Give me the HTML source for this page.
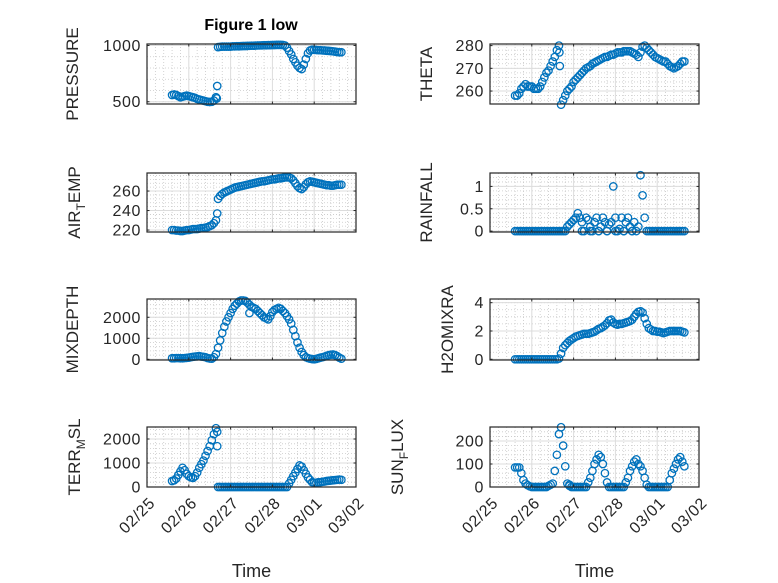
<!DOCTYPE html>
<html><head><meta charset="utf-8"><style>
html,body{margin:0;padding:0;background:#fff;}
svg{display:block;font-family:"Liberation Sans","DejaVu Sans",sans-serif;}
</style></head><body>
<svg id="fig" width="778" height="583" viewBox="0 0 778 583">
<rect width="778" height="583" fill="#fff"/>
<text x="251" y="30" text-anchor="middle" font-size="16" font-weight="bold" fill="#000">Figure 1 low</text>
</svg>
<script>
// shared time axis: days after 02/25 00:00
const t0 = 0.6, dt = 0.05;
const xTickLabels = ["02/25","02/26","02/27","02/28","03/01","03/02"];
const pressure = [560,565,560,550,540,545,550,555,550,545,540,535,525,520,515,510,505,500,498,500,510,540,
985,988,990,990,990,990,990,992,992,993,993,994,995,995,996,997,998,998,999,1000,1000,1001,1002,1002,1003,1003,1004,1004,1005,1005,1005,1004,1000,
980,950,920,880,850,820,800,790,830,880,930,955,962,962,960,958,958,956,955,953,952,950,948,945,942,940,940];
const theta = [258,258,259,261,262,263,262,262,262,261,261,261,262,264,266,268,269,271,273,275,278,280,
254,256,258,260,261,262,264,265,266,267,268,269,270,270.5,271,272,272.5,273,273.5,274,274.5,275,275,275.5,276,276,276.5,277,277,277,277.5,277.5,277.5,
277.5,277,276.5,276,275,277,279.5,280,279,278,277,276,275,274.5,274,273.5,273,273,272,271,270.5,270,270.5,271,272,273,273];
const airTemp = [220,220,219.5,219.5,219,219,219.5,220,220,220.5,221,221,221,221.5,222,222,222.5,223,224,225,227,230,
252,255,257,258.5,259.5,260.5,261.5,262.5,263.5,264,264.5,265,265.5,266,266.5,267,267.5,268,268.5,269,269.5,270,270,270.5,271,271.5,272,272,272.5,273,273,273.5,274,
274,274,273,271,268,265,263,262,264,267,269,270,269.5,269,268.5,268,267.5,267,266.5,266,266,265.5,265.5,266,266.5,266.5,266.5];
const rainfall = [0,0,0,0,0,0,0,0,0,0,0,0,0,0,0,0,0,0,0,0,0,0,0,0,0,
0.1,0.15,0.2,0.25,0.3,0.4,0.3,0.2,0,0.3,0.25,0.1,0,0.2,0.3,0,0.1,0.3,0.2,0,0.15,0.2,1.0,0.3,0,0.05,0.3,0,0.2,0.3,0.1,0,0.2,0,0.1,1.25,0.8,0.3,0,
0,0,0,0,0,0,0,0,0,0,0,0,0,0,0,0,0,0];
const mixDepth = [50,50,60,60,50,50,60,70,80,100,120,130,140,150,130,120,100,60,40,30,100,
250,550,900,1250,1550,1800,2000,2200,2400,2550,2650,2750,2800,2800,2780,2700,2600,2500,2450,2400,2300,2200,2100,2000,1950,1900,2050,2250,2350,2400,
2450,2400,2300,2200,2050,1900,1700,1400,1100,800,550,350,200,100,60,30,10,0,20,50,80,100,130,170,200,220,230,200,150,80,30];
const h2oMix = [0,0,0,0,0,0,0,0,0,0,0,0,0,0,0,0,0,0,0,0,0,
0.05,0.4,0.8,1.0,1.15,1.3,1.4,1.5,1.6,1.65,1.7,1.75,1.8,1.8,1.8,1.85,1.9,1.95,2.05,2.15,2.2,2.3,2.4,2.55,2.75,2.8,2.6,2.5,2.45,2.5,2.5,2.55,2.6,2.65,2.7,2.8,3.0,3.2,3.35,3.4,3.3,2.9,2.5,2.2,2.1,2.0,2.0,1.95,1.95,1.9,1.85,1.9,1.95,2.0,2.0,2.0,2.0,2.0,2.0,1.95,1.9];
const terrMsl = [250,280,350,500,650,800,700,550,450,400,380,450,600,800,950,1100,1300,1500,1700,1950,2200,2450,
0,0,0,0,0,0,0,0,0,0,0,0,0,0,0,0,0,0,0,0,0,0,0,0,0,0,0,0,0,0,0,0,0,0,
150,300,450,600,750,900,850,700,550,400,300,200,180,180,200,200,220,230,250,260,270,280,290,300,310,300];
const sunFlux = [85,85,85,60,30,15,8,3,0,0,0,0,0,0,0,0,5,10,15,
70,140,230,260,180,90,15,5,0,0,0,0,0,0,0,0,
20,40,70,100,120,140,130,100,60,20,0,0,0,0,0,0,0,0,
20,40,70,90,110,120,100,90,70,40,10,0,0,0,0,0,0,0,0,0,0,
30,60,80,100,120,130,110,90];
// a few extra outlier samples [day, value]
const pressureExtraX = [1.68,1.67]; const pressureExtraY = [640,530];
const thetaExtraX = [1.66,1.67]; const thetaExtraY = [277,271];
const airTempExtraX = [1.68]; const airTempExtraY = [237];
const mixExtraX = [2.45]; const mixExtraY = [2200];
const terrExtraX = [1.68,1.68]; const terrExtraY = [2300,1700];
const sunExtraX = [1.9]; const sunExtraY = [10];
const rainZeroX = [2.2,2.4,2.6,2.8,3.0,3.2,3.4];

const NS = "http://www.w3.org/2000/svg";
const svg = document.getElementById("fig");
function el(tag, attrs, parent){ const e=document.createElementNS(NS,tag); for(const k in attrs) e.setAttribute(k,attrs[k]); (parent||svg).appendChild(e); return e; }

const panels = [
 {name:"pressure", x0:147,x1:356,y0:44,y1:104, ymin:480,ymax:1013, ticks:[500,1000], minor:100, data:pressure, ex:pressureExtraX, ey:pressureExtraY, label:["PRESSURE"], lx:78, xlab:false},
 {name:"theta", x0:490,x1:699,y0:44,y1:104, ymin:254.3,ymax:280.7, ticks:[260,270,280], minor:2, data:theta, ex:thetaExtraX, ey:thetaExtraY, label:["THETA"], lx:432, xlab:false},
 {name:"air-temp", x0:147,x1:356,y0:173,y1:232, ymin:218,ymax:278.5, ticks:[220,240,260], minor:4, data:airTemp, ex:airTempExtraX, ey:airTempExtraY, label:["AIR","T","EMP"], lx:80, xlab:false},
 {name:"rainfall", x0:490,x1:699,y0:173,y1:232, ymin:-0.02,ymax:1.3, ticks:[0,0.5,1], minor:0.1, data:rainfall, ex:rainZeroX, ey:rainZeroX.map(()=>0), label:["RAINFALL"], lx:432, xlab:false},
 {name:"mix-depth", x0:147,x1:356,y0:299,y1:360, ymin:-33,ymax:2870, ticks:[0,1000,2000], minor:200, data:mixDepth, ex:mixExtraX, ey:mixExtraY, label:["MIXDEPTH"], lx:78, xlab:false},
 {name:"h2o-mix", x0:490,x1:699,y0:299,y1:360, ymin:-0.05,ymax:4.26, ticks:[0,2,4], minor:0.5, data:h2oMix, ex:[], ey:[], label:["H2OMIXRA"], lx:453, xlab:false},
 {name:"terr-msl", x0:147,x1:356,y0:427,y1:487, ymin:0,ymax:2500, ticks:[0,1000,2000], minor:200, data:terrMsl, ex:terrExtraX, ey:terrExtraY, label:["TERR","M","SL"], lx:80, xlab:true},
 {name:"sun-flux", x0:490,x1:699,y0:427,y1:487, ymin:0,ymax:261, ticks:[0,100,200], minor:20, data:sunFlux, ex:sunExtraX, ey:sunExtraY, label:["SUN","F","LUX"], lx:403, xlab:true}
];

panels.forEach(p=>{
  const g = el("g",{});
  
  
  const xs = d => p.x0 + (d/5)*(p.x1-p.x0);
  const ys = v => p.y1 - (v-p.ymin)/(p.ymax-p.ymin)*(p.y1-p.y0);
  el("rect",{x:p.x0,y:p.y0,width:p.x1-p.x0,height:p.y1-p.y0,fill:"#fff"},g);
  for(let d=0.2; d<5; d+=0.2){ if(Math.abs(d-Math.round(d))<1e-6) continue;
    el("line",{x1:xs(d),x2:xs(d),y1:p.y0,y2:p.y1,stroke:"#c8c8c8","stroke-width":0.8,"stroke-dasharray":"1,2"},g); }
  const mstart = Math.ceil(p.ymin/p.minor)*p.minor;
  for(let v=mstart; v<p.ymax; v+=p.minor){ const y=ys(v); if(y<p.y0+0.5||y>p.y1-0.5) continue;
    el("line",{x1:p.x0,x2:p.x1,y1:y,y2:y,stroke:"#c8c8c8","stroke-width":0.8,"stroke-dasharray":"1,2"},g); }
  for(let d=1; d<5; d++) el("line",{x1:xs(d),x2:xs(d),y1:p.y0,y2:p.y1,stroke:"#dcdcdc","stroke-width":1},g);
  p.ticks.forEach(v=>{ const y=ys(v); if(y>p.y0+0.5&&y<p.y1-0.5) el("line",{x1:p.x0,x2:p.x1,y1:y,y2:y,stroke:"#dcdcdc","stroke-width":1},g); });
  const clip = el("clipPath",{id:"c-"+p.name},g);
  el("rect",{x:p.x0-5,y:p.y0-5,width:p.x1-p.x0+10,height:p.y1-p.y0+10},clip);
  const sg = el("g",{"clip-path":"url(#c-"+p.name+")"},g);
  
  
  const addPt=(d,v)=>{ const c=el("circle",{cx:xs(d).toFixed(2),cy:ys(v).toFixed(2),r:3.7,fill:"none",stroke:"#0072BD","stroke-width":1.3},sg);
    
     };
  p.data.forEach((v,i)=>addPt(t0+dt*i, v));
  p.ex.forEach((d,i)=>addPt(d, p.ey[i]));
  el("rect",{x:p.x0,y:p.y0,width:p.x1-p.x0,height:p.y1-p.y0,fill:"none",stroke:"#262626","stroke-width":1.2},g);
  for(let d=0; d<=5; d++){ el("line",{x1:xs(d),x2:xs(d),y1:p.y1,y2:p.y1-2.5,stroke:"#262626"},g); el("line",{x1:xs(d),x2:xs(d),y1:p.y0,y2:p.y0+2.5,stroke:"#262626"},g); }
  p.ticks.forEach(v=>{ const y=ys(v);
    el("line",{x1:p.x0,x2:p.x0+2.5,y1:y,y2:y,stroke:"#262626"},g);
    el("line",{x1:p.x1,x2:p.x1-2.5,y1:y,y2:y,stroke:"#262626"},g);
    const tx=el("text",{x:p.x0-6,y:y+5.5,"text-anchor":"end","font-size":16,"letter-spacing":"0.6",fill:"#262626"},g);
    tx.textContent=String(v);
    
     });
  if(p.xlab){
    xTickLabels.forEach((s,i)=>{ const x=xs(i)+9, y=p.y1+17;
      const tx=el("text",{x:x,y:y,"text-anchor":"end","font-size":16,"letter-spacing":"0.6",fill:"#262626",transform:"rotate(-45 "+x+" "+y+")"},g);
      tx.textContent=s;
      
       });
    const xt=el("text",{x:(p.x0+p.x1)/2,y:577,"text-anchor":"middle","font-size":18,fill:"#262626"},g);
    xt.textContent="Time";
    
    
  }
  const cy=(p.y0+p.y1)/2;
  const yl=el("text",{x:p.lx,y:cy,"text-anchor":"middle","font-size":17,fill:"#262626",transform:"rotate(-90 "+p.lx+" "+cy+")"},g);
  
  
  if(p.label.length===1){ yl.textContent=p.label[0]; }
  else {
    const a=el("tspan",{},yl); a.textContent=p.label[0];
    const b=el("tspan",{"font-size":12,dy:5},yl); b.textContent=p.label[1];
    const c=el("tspan",{dy:-5},yl); c.textContent=p.label[2];
  }
});
</script>
</body></html>
